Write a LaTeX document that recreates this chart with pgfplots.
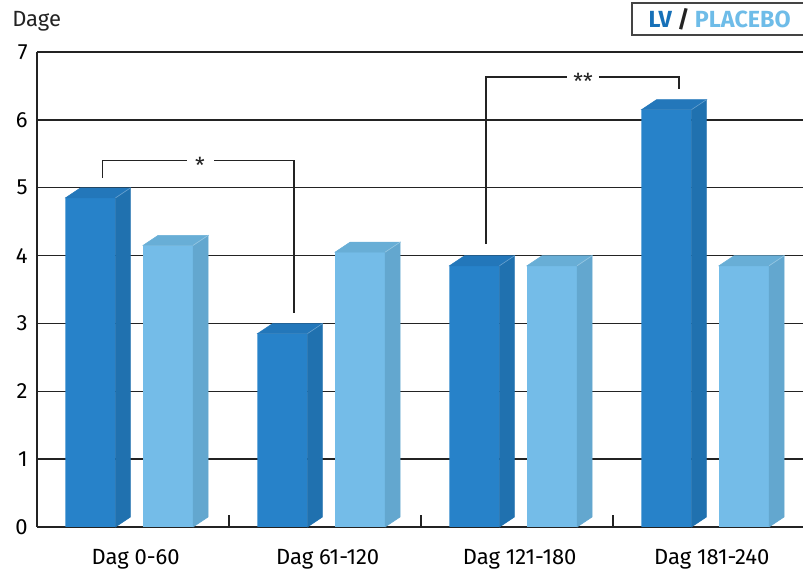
\documentclass[border=0pt]{standalone}
\usepackage{pgfplots}
\pgfplotsset{compat=1.18}
\usepackage{fontspec}
\setmainfont{Fira Sans}
\definecolor{lvF}{RGB}{39,130,201}
\definecolor{lvS}{RGB}{32,113,175}
\definecolor{lvT}{RGB}{35,119,186}
\definecolor{plF}{RGB}{116,188,232}
\definecolor{plS}{RGB}{99,167,207}
\definecolor{plT}{RGB}{104,174,214}
\definecolor{gridc}{RGB}{35,35,35}
\definecolor{legLV}{RGB}{22,112,184}
\definecolor{legPL}{RGB}{110,188,232}
\pgfdeclareplotmark{nothing}{}
\pgfplotsset{
  box3d/.style n args={3}{%
    scatter, only marks, mark=nothing,
    visualization depends on={rawy \as \ry},
    scatter/@pre marker code/.code={%
      \pgfmathsetmacro\hh{\ry*50.89}%
      \fill[#3] ({#1pt+18.75pt},0pt) -- ++(11.25pt,7.5pt) -- ++(0pt,-\hh pt) -- ++(-11.25pt,-7.5pt) -- cycle;
      \fill[#2] ({#1pt-18.75pt},0pt) -- ++(11.25pt,7.5pt) -- ++(37.5pt,0pt) -- ++(-11.25pt,-7.5pt) -- cycle;
      \draw[white, opacity=0.3, line width=0.5pt] ({#1pt+18.75pt},0pt) -- ++(11.25pt,7.5pt);
    },
    scatter/@post marker code/.code={},
  },
}
\begin{document}
\begin{tikzpicture}[font=\fontsize{16.5}{19}\selectfont]
\begin{axis}[
  at={(0,0)}, anchor=south west,
  x=144pt, y=50.89pt,
  xmin=-0.5, xmax=3.49, ymin=0, ymax=7,
  axis x line*=bottom, axis y line*=left,
  axis line style={gridc, line width=1pt, -},
  ytick={0,...,7},
  ymajorgrids, grid style={gridc, line width=1pt},
  ytick style={draw=none},
  /pgf/number format/assume math mode=true,
  yticklabel style={xshift=-3.5pt},
  xtick={0.5,1.5,2.5}, xticklabels={},
  xtick style={draw=gridc, line width=1pt},
  major tick length=9pt, tick align=inside,
  extra x ticks={0,1,2,3},
  extra x tick labels={Dag 0-60, Dag 61-120, Dag 121-180, Dag 181-240},
  extra x tick style={major tick length=0pt, tick style={draw=none}},
  xticklabel style={anchor=base, yshift=-28.5pt, xshift=2pt},
]
% front faces
\addplot[ybar, bar width=37.5pt, bar shift=-31.9pt, fill=lvF, draw=none]
  coordinates {(0,4.85) (1,2.85) (2,3.85) (3,6.15)};
\addplot[ybar, bar width=37.5pt, bar shift=26.3pt, fill=plF, draw=none]
  coordinates {(0,4.15) (1,4.05) (2,3.85) (3,3.85)};
% top and side faces
\addplot[box3d={-31.9}{lvT}{lvS}]
  coordinates {(0,4.85) (1,2.85) (2,3.85) (3,6.15)};
\addplot[box3d={26.3}{plT}{plS}]
  coordinates {(0,4.15) (1,4.05) (2,3.85) (3,3.85)};
% significance brackets
\addplot[gridc, line width=1pt, mark=none] coordinates {(-0.158,5.14) (-0.158,5.40) (0.281,5.40)};
\addplot[gridc, line width=1pt, mark=none] coordinates {(0.422,5.40) (0.8385,5.40) (0.8385,3.154)};
\node[text=gridc, yshift=-3.5pt] at (axis cs:0.349,5.40) {*};
\addplot[gridc, line width=1pt, mark=none] coordinates {(1.8385,4.17) (1.8385,6.63) (2.260,6.63)};
\addplot[gridc, line width=1pt, mark=none] coordinates {(2.427,6.63) (2.844,6.63) (2.844,6.455)};
\node[text=gridc, yshift=-3.5pt] at (axis cs:2.344,6.63) {**};
\end{axis}
\node[anchor=base west, inner sep=0pt, text=gridc] at (-18.75pt,375pt) {Dage};
\draw[gridc!85, line width=1.1pt] (446.25pt,369pt) rectangle (576pt,393pt);
\node[inner sep=0pt, font=\fontsize{17.5}{19}\selectfont\bfseries] at (512pt,381pt)
  {\textcolor{legLV}{LV} \textcolor{gridc}{/} \textcolor{legPL}{PLACEBO}};
\pgfresetboundingbox
\useasboundingbox (-27.75pt,-32.25pt) rectangle (574.5pt,395.25pt);
\end{tikzpicture}
\end{document}
